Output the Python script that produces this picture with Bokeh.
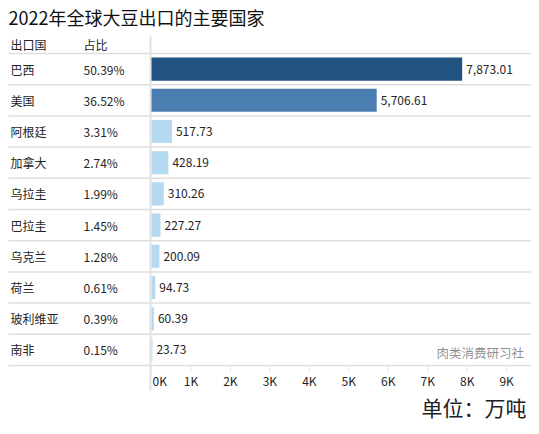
from bokeh.plotting import figure
from bokeh.models import Range1d
from bokeh.core.properties import value
from bokeh.embed import file_html
from bokeh.resources import INLINE

# ---- data ----
title = "2022年全球大豆出口的主要国家"
header_country = "出口国"
header_share = "占比"
countries = ["巴西", "美国", "阿根廷", "加拿大", "乌拉圭", "巴拉圭", "乌克兰", "荷兰", "玻利维亚", "南非"]
shares = ["50.39%", "36.52%", "3.31%", "2.74%", "1.99%", "1.45%", "1.28%", "0.61%", "0.39%", "0.15%"]
exports = [7873.01, 5706.61, 517.73, 428.19, 310.26, 227.27, 200.09, 94.73, 60.39, 23.73]
tick_values = [0, 1000, 2000, 3000, 4000, 5000, 6000, 7000, 8000, 9000]
tick_labels = ["0K", "1K", "2K", "3K", "4K", "5K", "6K", "7K", "8K", "9K"]
unit_text = "单位：万吨"
watermark = "肉类消费研习社"

# ---- layout ----
W, H = 531, 424
PX_PER_K = 39.46      # pixels per 1000 units
X0 = 151              # canvas px of value 0
ROW = 31.2            # row height px
Y0 = 53               # canvas px of header bottom line

def dx(cx):
    return (cx - X0) / PX_PER_K * 1000.0

def dy(cy):
    return (cy - Y0) / ROW

FONT = value("Noto Sans CJK SC")
TXT = "#252423"
LINE = "#dedede"

p = figure(width=W, height=H, output_backend="svg", toolbar_location=None,
           x_range=Range1d(dx(0), dx(W)), y_range=Range1d(dy(H), dy(0)),
           x_axis_location=None, y_axis_location=None, min_border=0)
p.outline_line_color = None
p.grid.visible = False
p.background_fill_color = "white"
p.border_fill_color = "white"

n = len(countries)
ys = [i + 0.5 for i in range(n)]
bar_colors = ["#22527f", "#4a7db0"] + ["#b4d9f0"] * (n - 2)

# row lines
bounds = list(range(n + 1))
p.segment(x0=[dx(8)] * len(bounds), x1=[dx(533)] * len(bounds), y0=bounds, y1=bounds,
          line_color=LINE, line_width=1.5)
# vertical separators
p.segment(x0=[dx(150), dx(533)], x1=[dx(150), dx(533)], y0=[dy(35)] * 2, y1=[dy(390)] * 2,
          line_color="#e2e2e2", line_width=2)
# tick marks
p.segment(x0=tick_values, x1=tick_values, y0=[n] * len(tick_values), y1=[dy(372)] * len(tick_values),
          line_color="#e6e6e6", line_width=1)

# bars
p.hbar(y=ys, left=0, right=exports, height=0.74, fill_color=bar_colors, line_color=None)

# value labels
p.text(x=exports, y=ys, text=["{:,.2f}".format(v) for v in exports], x_offset=4,
       text_font=FONT, text_font_size="12px", text_baseline="middle", text_align="left", text_color=TXT)

# table text
p.text(x=[dx(10)] * n, y=ys, text=countries, text_font=FONT, text_font_size="12px",
       text_baseline="middle", text_align="left", text_color=TXT)
p.text(x=[dx(83)] * n, y=ys, text=shares, text_font=FONT, text_font_size="12px",
       text_baseline="middle", text_align="left", text_color=TXT)
p.text(x=[dx(10), dx(83)], y=[dy(44)] * 2, text=[header_country, header_share], text_font=FONT,
       text_font_size="12px", text_baseline="middle", text_align="left", text_color=TXT)

# tick labels
p.text(x=tick_values[:1], y=[dy(380)], text=tick_labels[:1], x_offset=1, text_font=FONT,
       text_font_size="12px", text_baseline="middle", text_align="left", text_color=TXT)
p.text(x=tick_values[1:], y=[dy(380)] * (len(tick_values) - 1), text=tick_labels[1:], text_font=FONT,
       text_font_size="12px", text_baseline="middle", text_align="center", text_color=TXT)

# title
p.text(x=[dx(8)], y=[dy(3)], text=[title], text_font=FONT, text_font_size="18px",
       text_baseline="top", text_align="left", text_color="#111111")

# watermark
p.text(x=[dx(436)], y=[dy(352)], text=[watermark], text_font=FONT, text_font_size="12.5px",
       text_baseline="middle", text_align="left", text_color="#7a7a7a", text_alpha=0.85)

# unit
p.text(x=[dx(526)], y=[dy(406)], text=[unit_text], text_font=FONT, text_font_size="21px",
       text_baseline="middle", text_align="right", text_color="#222222")

open("out.html", "w").write(file_html(p, INLINE))
